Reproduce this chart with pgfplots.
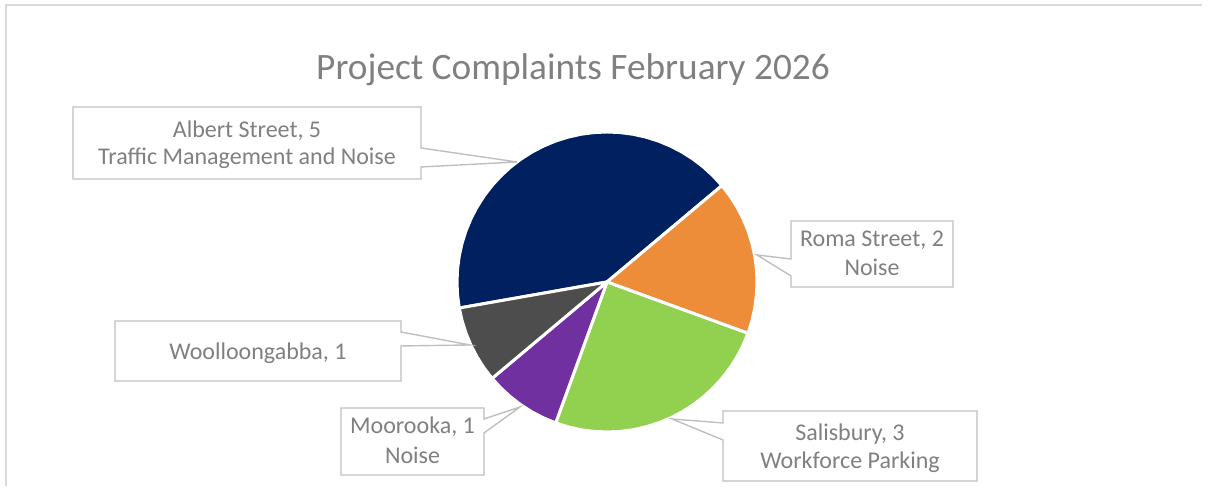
\documentclass[border=0pt]{standalone}
\usepackage{pgfplots}
\pgfplotsset{compat=1.18}
\usepackage{fontspec}
\setmainfont{Carlito}
\definecolor{cAlbert}{HTML}{002060}
\definecolor{cRoma}{HTML}{ED8D3A}
\definecolor{cSalis}{HTML}{92D050}
\definecolor{cMoor}{HTML}{7030A0}
\definecolor{cWooll}{HTML}{4D4D4D}
\definecolor{boxgray}{HTML}{BFBFBF}
\definecolor{txtgray}{HTML}{808080}
\definecolor{framegray}{HTML}{D9D9D9}
\begin{document}
\begin{tikzpicture}
% Values: Albert Street 5, Roma Street 2, Salisbury 3, Moorooka 1, Woolloongabba 1 (total 12, 30 deg each)
\begin{axis}[width=1208pt, height=486pt, scale only axis,
  xmin=-607, xmax=601, ymin=-204, ymax=282,
  axis lines=none, ticks=none, clip=false]
% keep full extent
\addplot[draw=none] coordinates {(-607,-204) (601,282)};
% chart frame
\addplot[draw=framegray, line width=1.5pt] coordinates {(-601,-204) (-601,277) (595,277)};
% pie slices (polar: angle, radius)
\addplot[data cs=polar, fill=cAlbert, draw=white, line width=3pt, line join=round] coordinates {
(0,0) (190,150) (185,150) (180,150) (175,150) (170,150) (165,150) (160,150) (155,150) (150,150) (145,150) (140,150) (135,150) (130,150) (125,150) (120,150) (115,150) (110,150) (105,150) (100,150) (95,150) (90,150) (85,150) (80,150) (75,150) (70,150) (65,150) (60,150) (55,150) (50,150) (45,150) (40,150)} -- cycle;
\addplot[data cs=polar, fill=cRoma, draw=white, line width=3pt, line join=round] coordinates {
(0,0) (40,150) (35,150) (30,150) (25,150) (20,150) (15,150) (10,150) (5,150) (0,150) (-5,150) (-10,150) (-15,150) (-20,150)} -- cycle;
\addplot[data cs=polar, fill=cSalis, draw=white, line width=3pt, line join=round] coordinates {
(0,0) (-20,150) (-25,150) (-30,150) (-35,150) (-40,150) (-45,150) (-50,150) (-55,150) (-60,150) (-65,150) (-70,150) (-75,150) (-80,150) (-85,150) (-90,150) (-95,150) (-100,150) (-105,150) (-110,150)} -- cycle;
\addplot[data cs=polar, fill=cMoor, draw=white, line width=3pt, line join=round] coordinates {
(0,0) (-110,150) (-115,150) (-120,150) (-125,150) (-130,150) (-135,150) (-140,150)} -- cycle;
\addplot[data cs=polar, fill=cWooll, draw=white, line width=3pt, line join=round] coordinates {
(0,0) (-140,150) (-145,150) (-150,150) (-155,150) (-160,150) (-165,150) (-170,150)} -- cycle;
% callouts
\addplot[draw=boxgray, fill=white, line width=1.4pt] coordinates {(-534,175) (-186,175) (-186,134) (-90,120) (-186,115) (-186,103) (-534,103)} -- cycle;
\addplot[draw=boxgray, fill=white, line width=1.4pt] coordinates {(184,61) (346,61) (346,-5) (184,-5) (184,6) (150,27) (184,23)} -- cycle;
\addplot[draw=boxgray, fill=white, line width=1.4pt] coordinates {(-492,-39) (-206,-39) (-206,-50) (-137,-63) (-206,-64) (-206,-99) (-492,-99)} -- cycle;
\addplot[draw=boxgray, fill=white, line width=1.4pt] coordinates {(-266,-126) (-123,-126) (-123,-137) (-87,-125) (-123,-151) (-123,-193) (-266,-193)} -- cycle;
\addplot[draw=boxgray, fill=white, line width=1.4pt] coordinates {(116,-129) (370,-129) (370,-199) (116,-199) (116,-158) (65,-137) (116,-141)} -- cycle;
% texts
\begin{scope}[every node/.style={anchor=base, text=txtgray, font=\fontsize{24}{28}\selectfont, inner sep=0pt}]
\node at (axis cs:-360,144) {Albert Street, 5};
\node at (axis cs:-360,117) {Traffic Management and Noise};
\node at (axis cs:265,35) {Roma Street, 2};
\node at (axis cs:265,6) {Noise};
\node at (axis cs:-349,-78) {Woolloongabba, 1};
\node at (axis cs:-194.5,-152) {Moorooka, 1};
\node at (axis cs:-194.5,-182) {Noise};
\node at (axis cs:243,-159) {Salisbury, 3};
\node at (axis cs:243,-187) {Workforce Parking};
\end{scope}
\node[anchor=base, text=txtgray, font=\fontsize{37.3}{44}\selectfont, inner sep=0pt] at (axis cs:-34,202) {Project Complaints February 2026};
\end{axis}
\end{tikzpicture}
\end{document}
